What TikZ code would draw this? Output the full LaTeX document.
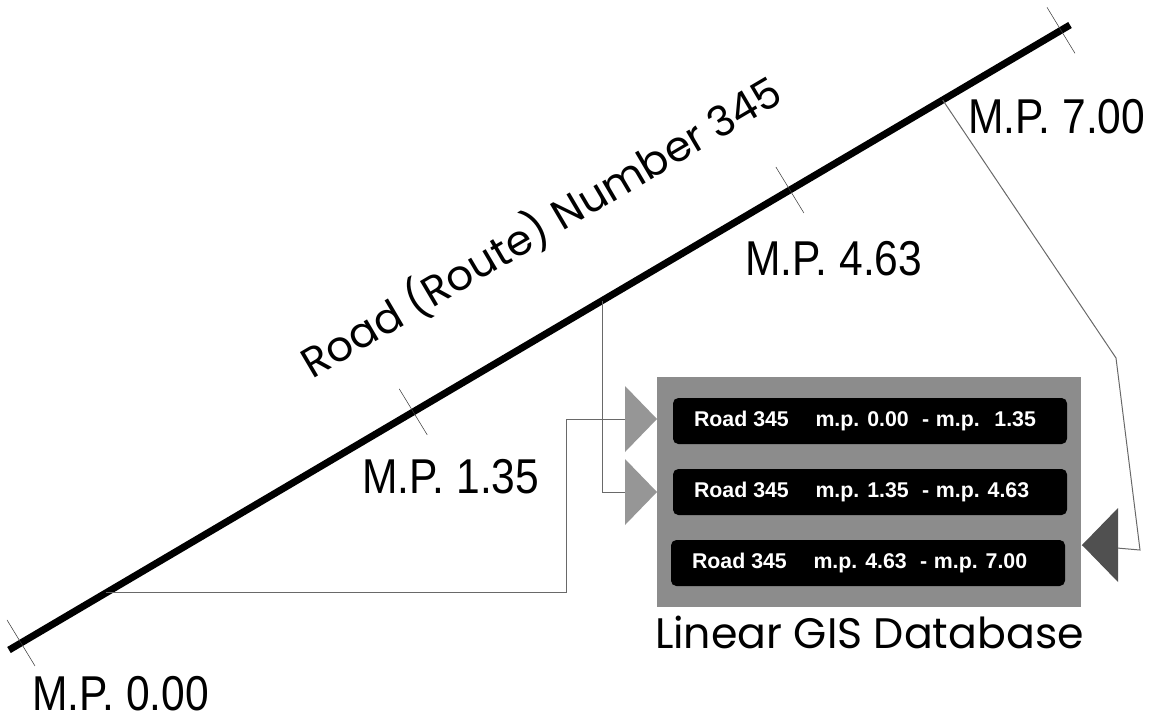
\documentclass[tikz,border=0pt]{standalone}
\usepackage{fontspec}
\setmainfont{Liberation Sans}
\newfontfamily\mpfont[FakeStretch=0.87]{Liberation Sans}
\newfontfamily\geofont{Poppins}
\usetikzlibrary{calc}

\tikzset{every picture/.style={line width=0.75pt}}
\tikzset{
  tick/.style={line width=0.4pt, draw={rgb, 255:red, 60; green, 60; blue, 60 }},
  link/.style={line width=0.75pt, draw={rgb, 255:red, 105; green, 105; blue, 105 }},
  mplabel/.style={anchor=base west, inner sep=0pt, font=\mpfont\fontsize{36.7}{40}\selectfont},
  rowbox/.style={fill=black, rounded corners=4pt, text=white,
    font=\bfseries\fontsize{16}{18}\selectfont, inner xsep=15.75pt, inner ysep=0pt,
    minimum height=34.5pt},
  dbbox/.style={fill={rgb, 255:red, 140; green, 140; blue, 140 }, inner sep=0pt,
    minimum width=318pt, minimum height=172.5pt},
  trilight/.style={fill={rgb, 255:red, 150; green, 150; blue, 150 }},
  tridark/.style={fill={rgb, 255:red, 80; green, 80; blue, 80 }},
}
\newcommand{\rowtext}[1]{\makebox[264pt][l]{#1}}

\begin{document}
\begin{tikzpicture}[x=0.75pt,y=0.75pt,yscale=-1,xscale=1]
	\useasboundingbox (0,0) rectangle (1159,715);
	
	%Road
	\coordinate (r0) at (9,650);
	\coordinate (r1) at (1070,25);
	\draw [line width=5.25pt] (r0) -- (r1) ;
	
	%Mile posts on the road
	\coordinate (mp0) at ($(r0)!0.0113!(r1)$);
	\coordinate (mp1) at ($(r0)!0.381!(r1)$);
	\coordinate (mp2) at ($(r0)!0.736!(r1)$);
	\coordinate (mp3) at ($(r0)!0.9915!(r1)$);
	\foreach \p in {mp0,mp1,mp2,mp3}
		\draw [tick] ($(\p)+(-14,-23)$) -- ($(\p)+(14,23)$) ;
	
	%Taps on the road
	\coordinate (tap1) at ($(r0)!0.0914!(r1)$);
	\coordinate (tap2) at ($(r0)!0.559!(r1)$);
	\coordinate (tap3) at ($(r0)!0.880!(r1)$);
	
	%Database
	\node [dbbox] (db) at (869,492) {};
	\node [rowbox] (row1) at (870,421) {\rowtext{Road 345\hspace{20pt}m.p. 0.00\hspace{10pt}-\hspace{5pt}m.p.\hspace{11pt}1.35}};
	\node [rowbox] (row2) at (870,492) {\rowtext{Road 345\hspace{20pt}m.p. 1.35\hspace{10pt}-\hspace{5pt}m.p. 4.63}};
	\node [rowbox] (row3) at (868,563) {\rowtext{Road 345\hspace{20pt}m.p. 4.63\hspace{10pt}-\hspace{5pt}m.p. 7.00}};
	
	%Triangle inputs
	\coordinate (in1) at (625,419);
	\coordinate (in2) at (625,492);
	\coordinate (in3) at (1118,545);
	\coordinate (elbow1) at (566,419);
	\coordinate (bend3a) at (1116,358);
	\coordinate (bend3b) at (1140,550);
	
	%Straight Lines
	\draw [link] (tap1) -| (elbow1) -- (in1) ;
	%Straight Lines
	\draw [link] (tap2) |- (in2) ;
	%Straight Lines
	\draw [link] (tap3) -- (bend3a) -- (bend3b) -- ($(in3)+(-36,0)$) ;
	
	%Triangles
	\fill [trilight] ($(in1)+(0,-33)$) -- ($(in1)+(32,0)$) -- ($(in1)+(0,33)$) -- cycle ;
	\fill [trilight] ($(in2)+(0,-33)$) -- ($(in2)+(32,0)$) -- ($(in2)+(0,33)$) -- cycle ;
	\fill [tridark] ($(in3)+(0,-37)$) -- ($(in3)+(-36,0)$) -- ($(in3)+(0,37)$) -- cycle ;
	
	% Text Node
	\node [mplabel] (lbl0) at (32,710) {M.P. 0.00};
	% Text Node
	\node [mplabel] (lbl1) at (362,493) {M.P. 1.35};
	% Text Node
	\node [mplabel] (lbl2) at (745,275) {M.P. 4.63};
	% Text Node
	\node [mplabel] (lbl3) at (968,133) {M.P. 7.00};
	% Text Node
	\node [anchor=base, inner sep=0pt, rotate=30.5, font=\geofont\fontsize{31.5}{34}\selectfont] (roadname) at (549,240) {Road (Route) Number 345};
	% Text Node
	\node [anchor=base west, inner sep=0pt, font=\geofont\fontsize{32}{36}\selectfont] (dbname) at ($(db.south west)+(-2,41)$) {Linear GIS Database};
	
\end{tikzpicture}
\end{document}
